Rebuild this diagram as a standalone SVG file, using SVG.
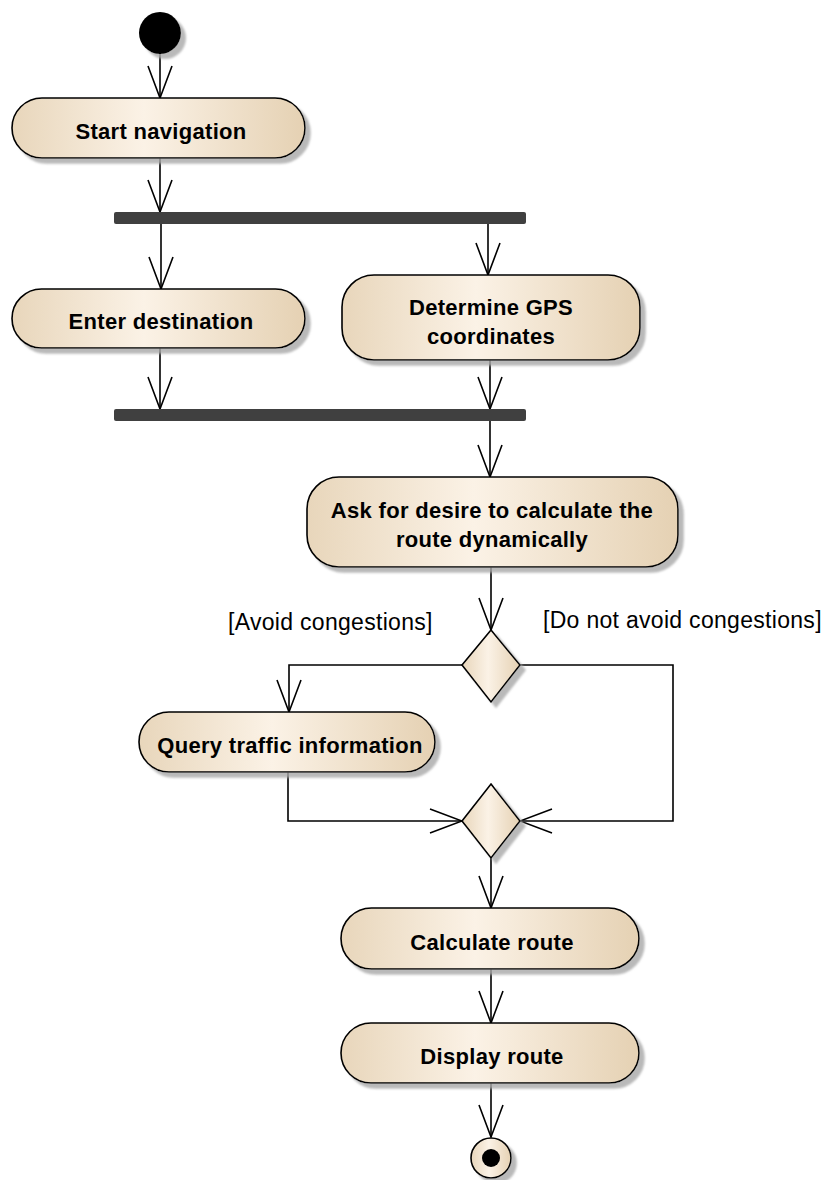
<svg xmlns="http://www.w3.org/2000/svg" width="824" height="1180" viewBox="0 0 824 1180">
<style>
.act{fill:url(#beige);stroke:#000;stroke-width:1.6;filter:url(#shadow)}
.lbl{font-family:"Liberation Sans",Arial,sans-serif;font-weight:bold;font-size:22px;letter-spacing:0.3px;fill:#000;text-anchor:middle}
.guard{font-family:"Liberation Sans",Arial,sans-serif;font-size:23px;letter-spacing:0.3px;fill:#000}
.bar{fill:#404040}
.con{fill:none;stroke:#000;stroke-width:1.6;marker-end:url(#arrow)}
</style>
<defs>
<linearGradient id="beige" x1="0" y1="0" x2="1" y2="0">
<stop offset="0" stop-color="#e8d6bb"/>
<stop offset="0.45" stop-color="#fbf2e6"/>
<stop offset="1" stop-color="#e5d1b3"/>
</linearGradient>
<filter id="shadow" x="-10%" y="-10%" width="130%" height="140%">
<feDropShadow dx="5" dy="5" stdDeviation="0.8" flood-color="#a8a8a8" flood-opacity="0.8"/>
</filter>
<marker id="arrow" viewBox="-34 -14 36 28" markerWidth="36" markerHeight="28" refX="0" refY="0" markerUnits="userSpaceOnUse" orient="auto">
<path d="M -32 -12 L 0 0 L -32 12" fill="none" stroke="#000" stroke-width="1.6"/>
</marker>
</defs>
<rect width="824" height="1180" fill="#fff"/>
<g id="connectors">
<path class="con" d="M160 54 V98"/>
<path class="con" d="M160 158 V212"/>
<path class="con" d="M161 224 V289"/>
<path class="con" d="M488 224 V275"/>
<path class="con" d="M160 348 V409"/>
<path class="con" d="M490 360 V409"/>
<path class="con" d="M490 421 V477"/>
<path class="con" d="M491 567 V630"/>
<path class="con" d="M462 665 H289 V712"/>
<path class="con" d="M288 772 V821 H462"/>
<path class="con" d="M520 665 H673 V821 H520"/>
<path class="con" d="M491 858 V908"/>
<path class="con" d="M491 969 V1023"/>
<path class="con" d="M491 1083 V1137"/>
</g>
<g id="start">
<circle cx="160" cy="33" r="21" fill="#000" filter="url(#shadow)"/>
</g>
<g id="start-navigation">
<rect class="act" x="12" y="98" width="293" height="60" rx="30"/>
<text class="lbl" x="161" y="139">Start navigation</text>
</g>
<g id="fork">
<rect class="bar" x="114" y="212" width="412" height="12" rx="2"/>
</g>
<g id="enter-destination">
<rect class="act" x="12" y="289" width="293" height="59" rx="29.5"/>
<text class="lbl" x="161" y="329">Enter destination</text>
</g>
<g id="determine-gps">
<rect class="act" x="342" y="275" width="298" height="85" rx="32"/>
<text class="lbl" x="491" y="315">Determine GPS</text>
<text class="lbl" x="491" y="344">coordinates</text>
</g>
<g id="join">
<rect class="bar" x="114" y="409" width="412" height="12" rx="2"/>
</g>
<g id="ask-route">
<rect class="act" x="307" y="477" width="371" height="90" rx="32"/>
<text class="lbl" x="492" y="518">Ask for desire to calculate the</text>
<text class="lbl" x="492" y="547">route dynamically</text>
</g>
<g id="decision">
<path class="act" d="M491 630 L520 665 L491 702 L462 665 Z"/>
</g>
<g id="guard-avoid">
<text class="guard" x="228" y="630">[Avoid congestions]</text>
</g>
<g id="guard-not-avoid">
<text class="guard" x="543" y="628">[Do not avoid congestions]</text>
</g>
<g id="query-traffic">
<rect class="act" x="139" y="712" width="296" height="60" rx="30"/>
<text class="lbl" x="290" y="753">Query traffic information</text>
</g>
<g id="merge">
<path class="act" d="M491 784 L520 821 L491 858 L462 821 Z"/>
</g>
<g id="calculate-route">
<rect class="act" x="341" y="908" width="298" height="61" rx="30.5"/>
<text class="lbl" x="492" y="950">Calculate route</text>
</g>
<g id="display-route">
<rect class="act" x="341" y="1023" width="298" height="60" rx="30"/>
<text class="lbl" x="492" y="1064">Display route</text>
</g>
<g id="final">
<circle class="act" cx="491" cy="1158" r="20"/>
<circle cx="491" cy="1158" r="9" fill="#000"/>
</g>
</svg>
